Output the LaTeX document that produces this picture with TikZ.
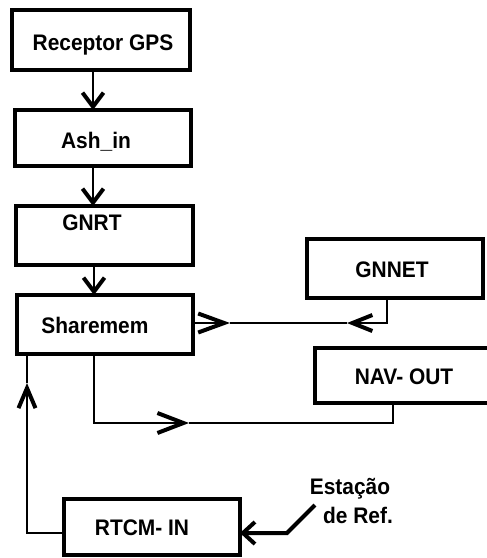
\documentclass[tikz,border=0pt]{standalone}
\usepackage{fontspec}
\setmainfont{Liberation Sans}[FakeStretch=0.93]
\usetikzlibrary{arrows.meta}
\begin{document}
\begin{tikzpicture}[x=1pt,y=-1pt,
  box/.style={draw,line width=4pt,inner sep=0pt,outer sep=0pt},
  lbl/.style={font=\bfseries\fontsize{22.5}{26}\selectfont,anchor=base,inner sep=0pt},
  conn/.style={line width=1.3pt}]
\useasboundingbox (0,0) rectangle (487,558);
% boxes
\node[box,minimum width=178pt,minimum height=60pt] (rec) at (101,40) {};
\node[box,minimum width=176pt,minimum height=56pt] (ash) at (103,138) {};
\node[box,minimum width=177pt,minimum height=59pt] (gnrt) at (104.5,235.5) {};
\node[box,minimum width=176pt,minimum height=59pt] (share) at (105,324.5) {};
\node[box,minimum width=176pt,minimum height=59pt] (gnnet) at (395,268.5) {};
\node[box,minimum width=178pt,minimum height=55pt] (nav) at (404,375.5) {};
\node[box,minimum width=176pt,minimum height=56pt] (rtcm) at (152,527) {};
% labels
\node[lbl] (trec) at (103,50) {Receptor GPS};
\node[lbl] (tash) at (96,148) {Ash\_in};
\node[lbl] (tgnrt) at (92,230) {GNRT};
\node[lbl] (tshare) at (95,333) {Sharemem};
\node[lbl] (tgnnet) at (392,277) {GNNET};
\node[lbl] (tnav) at (404,384) {NAV- OUT};
\node[lbl] (trtcm) at (142,535) {RTCM- IN};
\node[lbl] (test1) at (350,494) {Estação};
\node[lbl] (test2) at (358,523) {de Ref.};
% helper coordinates
\coordinate (xa) at (93,0);
\coordinate (xs) at (94,0);
\coordinate (g1) at (230,323);
\coordinate (g2) at (347,323);
\coordinate (xg) at (387,0);
\coordinate (n1) at (189,423);
\coordinate (xn) at (393,0);
\coordinate (f1) at (27,383);
\coordinate (yf) at (0,533);
\coordinate (e0) at (315,505);
\coordinate (e1) at (287,533);
% vertical chain
\draw[conn,-{Straight Barb[length=14pt,width=21pt,line width=4pt]}] (rec.south -| xa) -- (ash.north -| xa);
\draw[conn,-{Straight Barb[length=14pt,width=21pt,line width=4pt]}] (ash.south -| xa) -- (gnrt.north -| xa);
\draw[conn,-{Straight Barb[length=14pt,width=21pt,line width=4pt]}] (gnrt.south -| xs) -- (share.north -| xs);
% Sharemem <-> GNNET
\draw[conn,-{Straight Barb[length=26pt,width=19pt,line width=4pt]}] (share.east |- g1) -- (g1);
\draw[conn] (g1) -- (g2);
\draw[conn,-{Straight Barb[length=20pt,width=16pt,line width=4pt]}] (gnnet.south -| xg) |- (g2);
% Sharemem -> NAV-OUT
\draw[conn,-{Straight Barb[length=26pt,width=20pt,line width=4pt]}] (share.south -| xs) |- (n1);
\draw[conn] (n1) -| (nav.south -| xn);
% RTCM-IN -> Sharemem
\draw[conn,-{Straight Barb[length=20pt,width=17pt,line width=4pt]}] (rtcm.west |- yf) -| (f1);
\draw[conn] (f1) -- (share.south -| f1);
% Estacao -> RTCM-IN
\draw[line width=4pt,-{Straight Barb[length=12pt,width=22pt,line width=4pt]}] (e0) -- (e1) -- (rtcm.east |- e1);
\end{tikzpicture}
\end{document}
